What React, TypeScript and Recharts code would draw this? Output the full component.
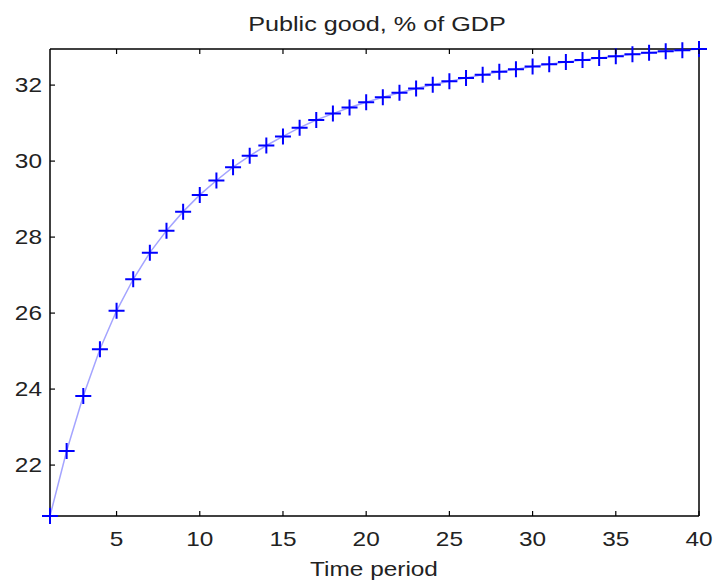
import * as React from 'react';
import { LineChart, Line, XAxis, YAxis } from 'recharts';

// time periods 1..40 and public good as % of GDP
const periods = [
  1, 2, 3, 4, 5, 6, 7, 8, 9, 10, 11, 12, 13, 14, 15, 16, 17, 18, 19, 20,
  21, 22, 23, 24, 25, 26, 27, 28, 29, 30, 31, 32, 33, 34, 35, 36, 37, 38, 39, 40,
];
const publicGood = [
  20.66, 22.37, 23.82, 25.05, 26.06, 26.89, 27.59, 28.17, 28.67, 29.11,
  29.49, 29.84, 30.14, 30.41, 30.65, 30.88, 31.08, 31.25, 31.41, 31.55,
  31.68, 31.8, 31.91, 32.01, 32.1, 32.19, 32.27, 32.35, 32.42, 32.49,
  32.55, 32.61, 32.66, 32.71, 32.76, 32.81, 32.85, 32.89, 32.92, 32.95,
];
const xTicks = [5, 10, 15, 20, 25, 30, 35, 40];
const yTicks = [22, 24, 26, 28, 30, 32];

const data = periods.map((t, i) => ({ t, v: publicGood[i] }));

const FONT = '"Liberation Sans", Arial, sans-serif';
const SX = 1.22; // the source text is a little stretched sideways
const TICK = 5;

const BottomTick = (props: any) => {
  const { x, y, payload } = props;
  return (
    <g>
      <line x1={x} x2={x} y1={y} y2={y - TICK} stroke="#000" strokeWidth={1.2} />
      <text
        transform={`translate(${x},${y + 30}) scale(${SX},1)`}
        textAnchor="middle"
        fontFamily={FONT}
        fontSize={20}
        fill="#222"
      >
        {payload.value}
      </text>
    </g>
  );
};

const TopTick = (props: any) => {
  const { x, y } = props;
  return <line x1={x} x2={x} y1={y} y2={y + TICK} stroke="#000" strokeWidth={1.2} />;
};

const LeftTick = (props: any) => {
  const { x, y, payload } = props;
  return (
    <g>
      <line x1={x} x2={x + TICK} y1={y} y2={y} stroke="#000" strokeWidth={1.2} />
      <text
        transform={`translate(${x - 8},${y + 7}) scale(${SX},1)`}
        textAnchor="end"
        fontFamily={FONT}
        fontSize={20}
        fill="#222"
      >
        {payload.value}
      </text>
    </g>
  );
};

const RightTick = (props: any) => {
  const { x, y } = props;
  return <line x1={x} x2={x - TICK} y1={y} y2={y} stroke="#000" strokeWidth={1.2} />;
};

const PlusDot = (props: any) => {
  const { cx, cy, index } = props;
  const s = 8;
  return (
    <path
      key={`p-${index}`}
      d={`M${cx - s},${cy}H${cx + s}M${cx},${cy - s}V${cy + s}`}
      stroke="#0000ff"
      strokeWidth={2}
      fill="none"
    />
  );
};

export default function App() {
  return (
    <div style={{ position: 'absolute', left: 0, top: 0, width: 716, height: 581, background: '#fff' }}>
      <LineChart
        width={716}
        height={581}
        data={data}
        margin={{ top: 48, right: 16, bottom: 35, left: 10 }}
      >
        <XAxis
          dataKey="t"
          type="number"
          domain={[1, 40]}
          ticks={xTicks}
          height={30}
          tickSize={0}
          tickMargin={0}
          tickLine={false}
          axisLine={{ stroke: '#000', strokeWidth: 1.5 }}
          tick={<BottomTick />}
          interval={0}
        />
        <XAxis
          xAxisId="top"
          orientation="top"
          dataKey="t"
          type="number"
          domain={[1, 40]}
          ticks={xTicks}
          height={1}
          tickSize={0}
          tickMargin={0}
          tickLine={false}
          axisLine={{ stroke: '#000', strokeWidth: 1.5 }}
          tick={<TopTick />}
          interval={0}
        />
        <YAxis
          type="number"
          domain={['dataMin', 'dataMax']}
          ticks={yTicks}
          width={40}
          tickSize={0}
          tickMargin={0}
          tickLine={false}
          axisLine={{ stroke: '#000', strokeWidth: 1.5 }}
          tick={<LeftTick />}
          interval={0}
        />
        <YAxis
          yAxisId="right"
          orientation="right"
          type="number"
          domain={['dataMin', 'dataMax']}
          ticks={yTicks}
          width={1}
          tickSize={0}
          tickMargin={0}
          tickLine={false}
          axisLine={{ stroke: '#000', strokeWidth: 1.5 }}
          tick={<RightTick />}
          interval={0}
        />
        <Line
          type="linear"
          dataKey="v"
          stroke="#a4a4ff"
          strokeWidth={1.5}
          dot={<PlusDot />}
          activeDot={false}
          isAnimationActive={false}
        />
      </LineChart>
      <svg
        width={716}
        height={581}
        style={{ position: 'absolute', left: 0, top: 0, pointerEvents: 'none' }}
      >
        <text
          transform={`translate(377,31) scale(1.26,1)`}
          textAnchor="middle"
          fontFamily={FONT}
          fontSize={20}
          fill="#222"
        >
          Public good, % of GDP
        </text>
        <text
          transform={`translate(374,576) scale(${SX},1)`}
          textAnchor="middle"
          fontFamily={FONT}
          fontSize={20}
          fill="#222"
        >
          Time period
        </text>
      </svg>
    </div>
  );
}
